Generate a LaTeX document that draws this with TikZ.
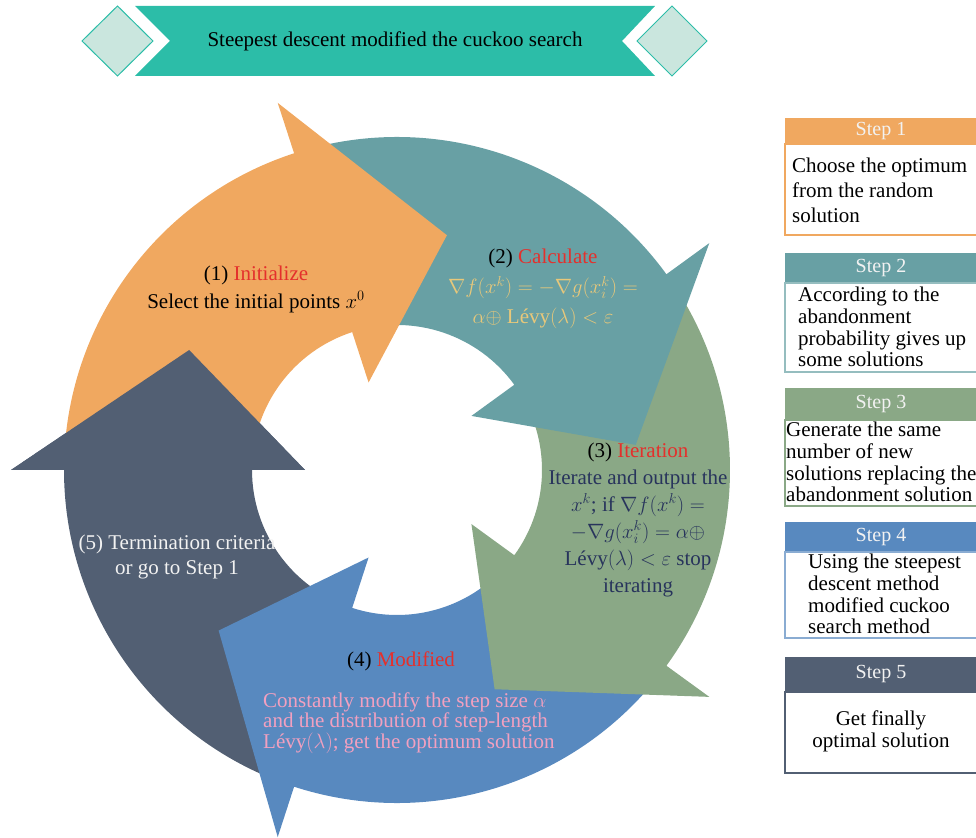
\documentclass[tikz,border=0pt]{standalone}
\usepackage{fontspec}
\setmainfont{Liberation Serif}
\definecolor{arrOrange}{RGB}{240,168,96}
\definecolor{arrTeal}{RGB}{104,160,164}
\definecolor{arrGreen}{RGB}{138,168,134}
\definecolor{arrBlue}{RGB}{88,137,191}
\definecolor{arrSlate}{RGB}{82,95,115}
\definecolor{bannerTeal}{RGB}{44,189,168}
\definecolor{diamondFill}{RGB}{202,230,222}
\definecolor{hiRed}{RGB}{228,48,44}
\definecolor{formGold}{RGB}{232,200,122}
\definecolor{deepNavy}{RGB}{40,52,92}
\definecolor{softPink}{RGB}{242,160,192}
\definecolor{paleWhite}{RGB}{242,242,242}
% one curved arrow of the ring: colour, angle of the head base
\newcommand{\ringarrow}[2]{%
  \fill[#1] ({#2+70.5}:333) arc[start angle={#2+70.5}, end angle={#2}, radius=333pt]
    -- ({#2}:386) -- ({#2-30}:240) -- ({#2}:92) -- ({#2}:145)
    arc[start angle={#2}, end angle={#2+70.5}, radius=145pt] -- cycle;}
\newcommand{\tightlines}{\lineskiplimit=-20pt\relax}
\begin{document}
\begin{tikzpicture}[x=1pt,y=1pt,
  ringtext/.style={inner sep=0pt, align=center},
  headbar/.style={fill=#1},
  bodybox/.style={draw=#1, fill=white, line width=1.5pt},
  headtext/.style={inner sep=0pt, text=paleWhite, font=\fontsize{20}{24}\selectfont},
  bodytext/.style={inner sep=0pt, align=left}]
\useasboundingbox (0,0) rectangle (976,837);
\clip (0,0) rectangle (976,837);

% title banner
\fill[bannerTeal] (135,831) -- (655,831) -- (622,796) -- (655,761) -- (135,761) -- (170,796) -- cycle;
\filldraw[fill=diamondFill, draw=bannerTeal, line width=1pt]
  (117.5,831) -- (153,796) -- (117.5,761) -- (82,796) -- cycle;
\filldraw[fill=diamondFill, draw=bannerTeal, line width=1pt]
  (672,831) -- (707,796) -- (672,761) -- (637,796) -- cycle;
\node[inner sep=0pt, font=\fontsize{21}{25}\selectfont] (title) at (395,796)
  {Steepest descent modified the cuckoo search};

% ring of five arrows
\begin{scope}[shift={(397,367)}]
  \ringarrow{arrSlate}{180}
  \ringarrow{arrBlue}{-108}
  \ringarrow{arrGreen}{-36}
  \ringarrow{arrTeal}{36}
  \ringarrow{arrOrange}{108}
  % head of the last arrow lies over the tail of the first
  \fill[arrSlate] (180:386) -- (150:240) -- (180:92) -- cycle;
\end{scope}

% ring labels
\node[ringtext, font=\fontsize{21}{28}\selectfont] (lab1) at (256,548)
  {(1) \textcolor{hiRed}{Initialize}\\Select the initial points $x^0$};
\node[ringtext, text=formGold, font=\fontsize{21}{30}\selectfont] (lab2) at (543,548)
  {\textcolor{black}{(2)} \textcolor{hiRed}{Calculate}\\
   $\nabla f(x^k) = -\nabla g(x_i^k) =$\\
   $\alpha \oplus$ Lévy$(\lambda) < \varepsilon$};
\node[ringtext, text=deepNavy, font=\fontsize{21}{27}\selectfont] (lab3) at (638,317)
  {\textcolor{black}{(3)} \textcolor{hiRed}{Iteration}\\
   Iterate and output the\\
   $x^k$; if $\nabla f(x^k) =$\\
   $-\nabla g(x_i^k) = \alpha \oplus$\\
   Lévy$(\lambda) < \varepsilon$ stop\\
   iterating};
\node[ringtext, font=\fontsize{21}{25}\selectfont] (lab4) at (401,176)
  {(4) \textcolor{hiRed}{Modified}};
\node[bodytext, anchor=west, text=softPink,
      font=\fontsize{21}{20.5}\selectfont\tightlines] (lab4b) at (263,114)
  {Constantly modify the step size $\alpha$\\
   and the distribution of step-length\\
   Lévy$(\lambda)$; get the optimum solution};
\node[ringtext, text=paleWhite, font=\fontsize{21}{25}\selectfont] (lab5) at (177,280)
  {(5) Termination criteria\\or go to Step 1};

% step legend
\fill[headbar=arrOrange] (785,719) rectangle (990,693);
\draw[bodybox=arrOrange] (785,693) rectangle (990,602);
\node[headtext] (s1h) at (881,706) {Step 1};
\node[bodytext, anchor=west, font=\fontsize{21}{25}\selectfont] (s1b) at (792,647)
  {Choose the optimum\\from the random\\solution};

\fill[headbar=arrTeal] (785,584) rectangle (990,554);
\draw[bodybox=arrTeal!70] (785,554) rectangle (990,465);
\node[headtext] (s2h) at (881,569) {Step 2};
\node[bodytext, anchor=west, font=\fontsize{21}{21.7}\selectfont] (s2b) at (798,510)
  {According to the\\abandonment\\probability gives up\\some solutions};

\fill[headbar=arrGreen] (785,449) rectangle (990,417);
\draw[bodybox=arrGreen] (785,417) rectangle (990,331);
\node[headtext] (s3h) at (881,433) {Step 3};
\node[bodytext, anchor=west, font=\fontsize{21}{21.7}\selectfont] (s3b) at (786,375)
  {Generate the same\\number of new\\solutions replacing the\\abandonment solution};

\fill[headbar=arrBlue] (785,315) rectangle (990,285);
\draw[bodybox=arrBlue!70] (785,285) rectangle (990,199);
\node[headtext] (s4h) at (881,300) {Step 4};
\node[bodytext, anchor=west, font=\fontsize{21}{21.7}\selectfont] (s4b) at (808,243)
  {Using the steepest\\descent method\\modified cuckoo\\search method};

\fill[headbar=arrSlate] (785,180) rectangle (990,145);
\draw[bodybox=arrSlate] (785,145) rectangle (990,64);
\node[headtext] (s5h) at (881,163) {Step 5};
\node[ringtext, font=\fontsize{21}{22}\selectfont] (s5b) at (881,106)
  {Get finally\\optimal solution};
\end{tikzpicture}
\end{document}
